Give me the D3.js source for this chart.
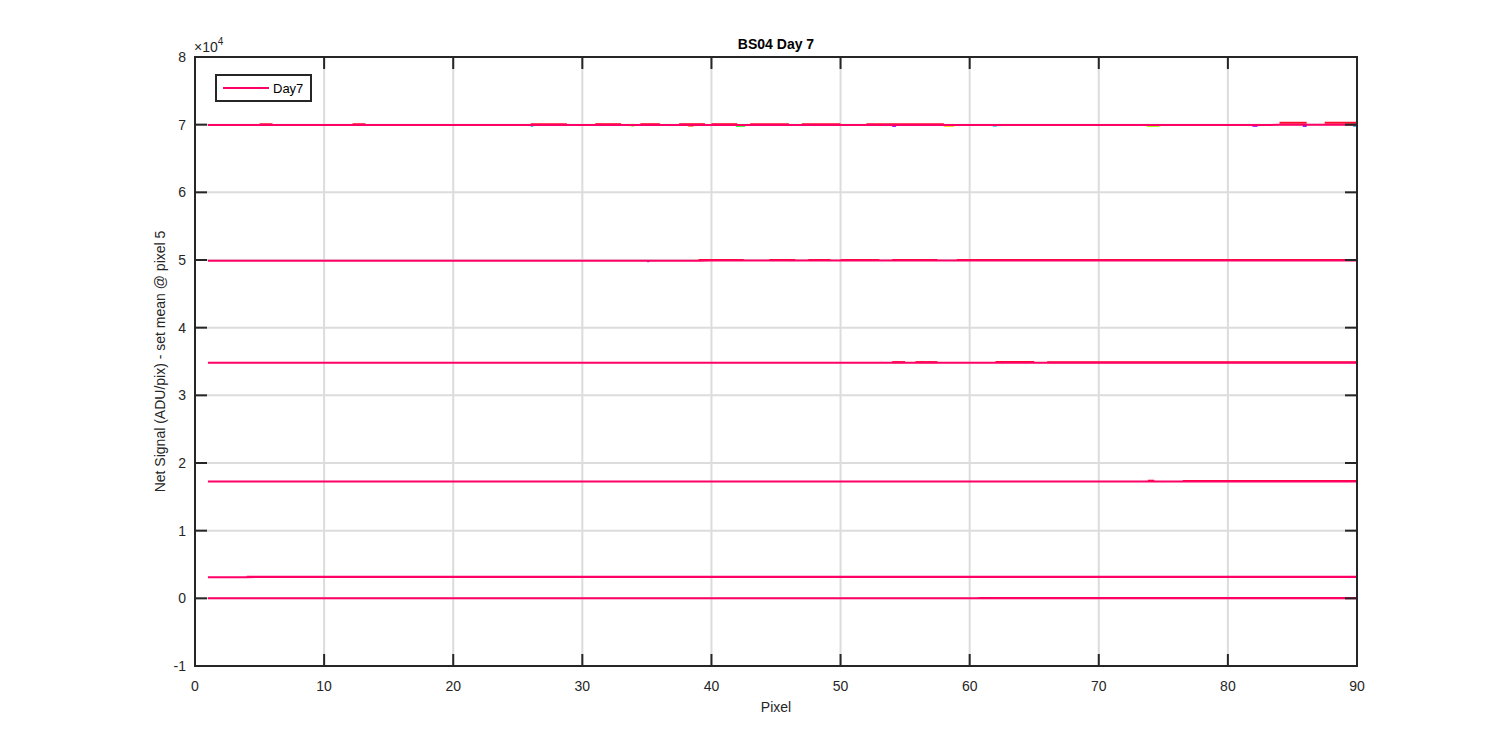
<!DOCTYPE html>
<html><head><meta charset="utf-8">
<script src="https://cdn.jsdelivr.net/npm/d3@7"></script>
<style>body{margin:0;background:#fff;} svg{font-family:"Liberation Sans",Arial,sans-serif;}</style>
</head><body>
<svg id="c" width="1500" height="750"></svg>
<script>
// ---------- data ----------
const title = "BS04 Day 7";
const xLabel = "Pixel";
const yLabel = "Net Signal (ADU/pix) - set mean @ pixel 5";
const legendLabel = "Day7";
const xTicks = [0,10,20,30,40,50,60,70,80,90];
const yTicks = [-10000,0,10000,20000,30000,40000,50000,60000,70000,80000];
const pixels = [1,2,3,4,5,6,7,8,9,10,11,12,13,14,15,16,17,18,19,20,21,22,23,24,25,26,27,28,29,30,31,32,33,34,35,36,37,38,39,40,41,42,43,44,45,46,47,48,49,50,51,52,53,54,55,56,57,58,59,60,61,62,63,64,65,66,67,68,69,70,71,72,73,74,75,76,77,78,79,80,81,82,83,84,85,86,87,88,89,90];

// Day7 main traces, one per signal level (pixels 1..90)
const day7L70 = [69950,69950,69955,69950,69960,69955,69950,69950,69955,69950,69950,69955,69960,69950,69950,69950,69955,69950,69950,69950,69950,69950,69950,69950,69955,69950,69950,69955,69960,69950,69955,69960,69960,69950,69955,69950,69950,69955,69960,69960,69960,69955,69960,69960,69960,69960,69960,69960,69960,69960,69960,69960,69960,69955,69960,69960,69960,69955,69960,69960,69960,69960,69960,69960,69960,69960,69960,69960,69960,69960,69960,69960,69960,69960,69960,69960,69960,69960,69960,69960,69960,69960,69960,69970,69970,69970,69980,69980,69980,69980];
const day7L50 = [49900,49900,49900,49900,49900,49900,49900,49900,49900,49900,49900,49900,49900,49900,49900,49900,49900,49900,49900,49900,49900,49900,49900,49900,49900,49900,49900,49900,49900,49900,49900,49900,49900,49900,49900,49900,49900,49900,49900,49910,49910,49910,49910,49910,49910,49910,49910,49910,49910,49910,49910,49910,49910,49910,49910,49910,49910,49910,49910,49910,49910,49910,49910,49910,49910,49910,49910,49910,49910,49910,49910,49910,49910,49910,49910,49910,49910,49910,49910,49910,49910,49910,49910,49910,49910,49910,49910,49910,49910,49910];
const day7L35 = [34800,34800,34800,34800,34800,34800,34800,34800,34800,34800,34800,34800,34800,34800,34800,34800,34800,34800,34800,34800,34800,34800,34800,34800,34800,34800,34800,34800,34800,34800,34800,34800,34800,34800,34800,34800,34800,34800,34800,34800,34800,34800,34800,34800,34800,34800,34800,34800,34800,34800,34800,34800,34800,34800,34800,34800,34800,34800,34800,34800,34800,34800,34800,34800,34800,34800,34810,34810,34810,34810,34810,34810,34810,34810,34810,34810,34810,34810,34810,34810,34810,34810,34810,34810,34810,34810,34810,34810,34810,34810];
const day7L17 = [17250,17250,17250,17250,17250,17250,17250,17250,17250,17250,17250,17250,17250,17250,17250,17250,17250,17250,17250,17250,17250,17250,17250,17250,17250,17250,17250,17250,17250,17250,17250,17250,17250,17250,17250,17250,17250,17250,17250,17250,17250,17250,17250,17250,17250,17250,17250,17250,17250,17250,17250,17250,17250,17250,17250,17250,17250,17250,17250,17250,17250,17250,17250,17250,17250,17250,17250,17250,17250,17250,17250,17250,17250,17250,17250,17250,17260,17260,17260,17260,17260,17260,17260,17260,17260,17260,17260,17260,17260,17260];
const day7L03 = [3130,3130,3130,3130,3140,3140,3140,3140,3140,3140,3140,3140,3140,3140,3140,3140,3140,3140,3140,3140,3140,3140,3140,3140,3140,3140,3140,3140,3140,3140,3140,3140,3140,3140,3140,3140,3140,3140,3140,3140,3140,3140,3140,3140,3140,3140,3140,3140,3140,3140,3140,3140,3140,3140,3140,3140,3140,3140,3140,3140,3140,3140,3140,3140,3140,3140,3140,3140,3140,3140,3140,3140,3140,3140,3140,3140,3140,3140,3140,3140,3140,3140,3140,3140,3140,3140,3140,3140,3140,3140];
const day7L00 = [0,0,0,0,0,0,0,0,0,0,0,0,0,0,0,0,0,0,0,0,0,0,0,0,0,0,0,0,0,0,0,0,0,0,0,0,0,0,0,0,0,0,0,0,0,0,0,0,0,0,0,0,0,0,0,0,0,0,0,0,0,0,0,0,0,0,0,0,0,0,0,0,0,0,0,0,0,0,0,0,0,0,0,0,0,0,0,0,0,0];

// other overlaid sets (short runs where they separate from Day7): [pixelStart, pixelEnd, value]
const upperRuns = [
  [5,6,70060],[12.2,13.2,70060],[26,28.8,70070],[31,33,70070],[34.5,36,70070],[37.5,39.5,70070],[40,42,70070],[43,46,70070],[47,50,70060],[52,58,70060],[84,86.1,70280],[87.5,90,70280],
  [39,42.5,50000],[44.5,46.5,50000],[47.5,49.2,50000],[50,53,50000],[54,57.5,50000],[59,90,49990],
  [54,55,34910],[55.8,57.5,34910],[62,65,34910],[66,90,34900],
  [73.8,74.3,17380],[76.5,90,17340],
  [4,90,3200],
  [60.7,90,45]
];
const lowerRuns = [
  [26,26.2,69830],[33.8,34,69850],[38.2,38.6,69850],[41.9,42.6,69810],[54,54.3,69820],[58,58.8,69830],[61.8,62.1,69840],[73.7,74.7,69820],[81.9,82.3,69830],[85.8,86.1,69830],[89.7,90,69840],
  [35,35.2,49820]
];
const lowerColors = ["#3399ff","#66ff00","#ff6600","#33ff33","#9900ff","#ffcc00","#00ccff","#99ff00","#9900ff","#6600ff","#00aaff","#9933ff"];

// ---------- drawing ----------
const svg = d3.select("#c");
const L = 195, R = 1357, T = 57, B = 666;
const x = d3.scaleLinear().domain([0,90]).range([L,R]);
const y = d3.scaleLinear().domain([-10000,80000]).range([B,T]);
const ink = "#262626", pink = "#ff0066", red = "#ff0a2a";

// grid
svg.append("g").selectAll("line").data(xTicks.slice(1,-1)).join("line")
  .attr("x1",d=>x(d)).attr("x2",d=>x(d)).attr("y1",T).attr("y2",B)
  .attr("stroke","#dcdcdc").attr("stroke-width",2);
svg.append("g").selectAll("line").data(yTicks.slice(1,-1)).join("line")
  .attr("y1",d=>y(d)).attr("y2",d=>y(d)).attr("x1",L).attr("x2",R)
  .attr("stroke","#dcdcdc").attr("stroke-width",2);

const line = d3.line().x(d=>x(d[0])).y(d=>y(d[1]));
const plot = svg.append("g");
lowerRuns.forEach((r,i)=>{
  plot.append("path").attr("d",line([[r[0],r[2]],[r[1],r[2]]]))
    .attr("stroke",lowerColors[i]).attr("stroke-width",2).attr("fill","none");
});
upperRuns.forEach(r=>{
  plot.append("path").attr("d",line([[r[0],r[2]],[r[1],r[2]]]))
    .attr("stroke", r[2] < 5000 ? pink : red).attr("stroke-width",2).attr("fill","none");
});
[day7L70,day7L50,day7L35,day7L17,day7L03,day7L00].forEach(arr=>{
  plot.append("path").attr("d",line(pixels.map((p,i)=>[p,arr[i]])))
    .attr("stroke",pink).attr("stroke-width",2).attr("fill","none");
});

// axes box
svg.append("rect").attr("x",L).attr("y",T).attr("width",R-L).attr("height",B-T)
  .attr("fill","none").attr("stroke",ink).attr("stroke-width",2);
const tl = 12;
const tk = svg.append("g").attr("stroke",ink).attr("stroke-width",2);
xTicks.forEach(d=>{
  tk.append("line").attr("x1",x(d)).attr("x2",x(d)).attr("y1",B).attr("y2",B-tl);
  tk.append("line").attr("x1",x(d)).attr("x2",x(d)).attr("y1",T).attr("y2",T+tl);
});
yTicks.forEach(d=>{
  tk.append("line").attr("y1",y(d)).attr("y2",y(d)).attr("x1",L).attr("x2",L+tl);
  tk.append("line").attr("y1",y(d)).attr("y2",y(d)).attr("x1",R).attr("x2",R-tl);
});
svg.append("g").selectAll("text").data(xTicks).join("text")
  .attr("x",d=>x(d)).attr("y",B+25).attr("text-anchor","middle")
  .attr("font-size",14).attr("fill",ink).text(d=>d);
svg.append("g").selectAll("text").data(yTicks).join("text")
  .attr("x",L-9).attr("y",d=>y(d)+5).attr("text-anchor","end")
  .attr("font-size",14).attr("fill",ink).text(d=>d/10000);
const ex = svg.append("text").attr("x",L-1).attr("y",52).attr("font-size",14).attr("fill",ink);
ex.append("tspan").text("\u00d710");
ex.append("tspan").attr("dy",-7).attr("font-size",10).text("4");
svg.append("text").attr("x",(L+R)/2).attr("y",49).attr("text-anchor","middle")
  .attr("font-size",14).attr("font-weight","bold").attr("fill","#000").text(title);
svg.append("text").attr("x",(L+R)/2).attr("y",712).attr("text-anchor","middle")
  .attr("font-size",14).attr("fill",ink).text(xLabel);
svg.append("text").attr("transform",`translate(165,${(T+B)/2}) rotate(-90)`)
  .attr("text-anchor","middle").attr("font-size",14).attr("fill",ink).text(yLabel);
svg.append("rect").attr("x",216).attr("y",75).attr("width",95).attr("height",26)
  .attr("fill","#fff").attr("stroke",ink).attr("stroke-width",2);
svg.append("line").attr("x1",223).attr("x2",269).attr("y1",88).attr("y2",88)
  .attr("stroke",pink).attr("stroke-width",2);
svg.append("text").attr("x",273).attr("y",93).attr("font-size",13).attr("fill","#000").text(legendLabel);
</script>
</body></html>
